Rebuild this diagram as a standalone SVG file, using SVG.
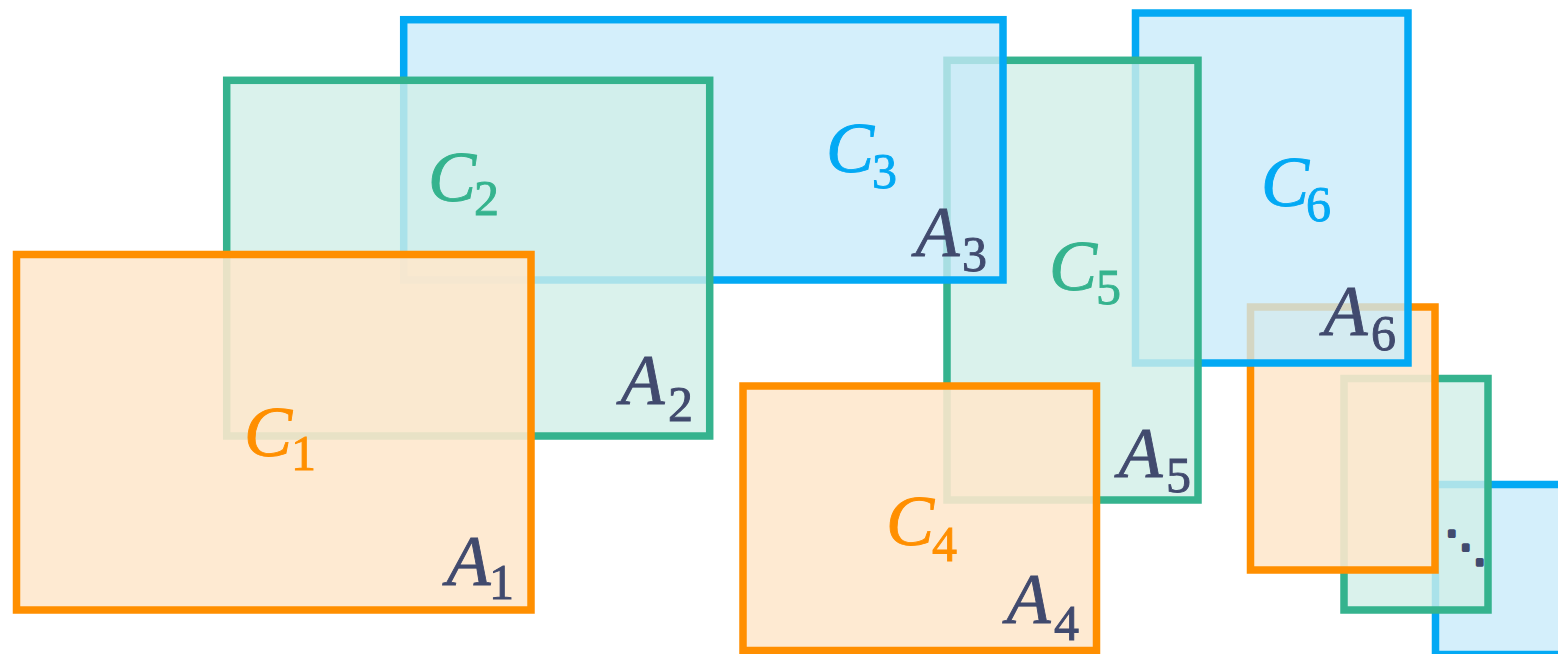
<svg xmlns="http://www.w3.org/2000/svg" width="1558" height="654" viewBox="0 0 1558 654">
<style>
  rect { stroke-width: 7.5; }
  .o { stroke: #ff8f00; fill: #fee7cc; fill-opacity: 0.89; }
  .g { stroke: #35b38e; fill: #d1efe7; fill-opacity: 0.81; }
  .b { stroke: #03a9f4; fill: #c8ebfa; fill-opacity: 0.78; }
  text { font-family: "Liberation Serif", "Times New Roman", serif; stroke-width: 0.9px; }
  .v { font-style: italic; font-size: 72px; }
  .s { font-style: normal; font-size: 50px; }
  .to { fill: #ff8f00; stroke: #ff8f00; }
  .tg { fill: #35b38e; stroke: #35b38e; }
  .tb { fill: #03a9f4; stroke: #03a9f4; }
  .ta { fill: #414a6e; stroke: #414a6e; }
  .dots { font-family: "DejaVu Sans", sans-serif; font-size: 42px; fill: #414a6e; stroke: #414a6e; stroke-width: 3.5px; stroke-linejoin: round; }
</style>
<rect x="0" y="0" width="1558" height="654" fill="#ffffff" stroke="none"/>
<g id="C9">
  <rect class="b" x="1435.5" y="484.5" width="140" height="170"/>
</g>
<g id="C8">
  <rect class="g" x="1344" y="378.5" width="144" height="231.5"/>
</g>
<g id="C7">
  <rect class="o" x="1250.5" y="307" width="184.5" height="263"/>
</g>
<g id="C6">
  <rect class="b" x="1135.5" y="13" width="272.5" height="350"/>
  <text class="tb"><tspan class="v" x="1261" y="206">C</tspan><tspan class="s" x="1306" y="221">6</tspan></text>
  <text class="ta"><tspan class="v" x="1323.5" y="335">A</tspan><tspan class="s" x="1371" y="350">6</tspan></text>
</g>
<g id="C5">
  <rect class="g" x="947" y="60.3" width="251" height="439.7"/>
  <text class="tg"><tspan class="v" x="1049" y="290">C</tspan><tspan class="s" x="1096" y="304">5</tspan></text>
  <text class="ta"><tspan class="v" x="1118.5" y="477">A</tspan><tspan class="s" x="1166" y="492">5</tspan></text>
</g>
<g id="C4">
  <rect class="o" x="743" y="386" width="353.5" height="264.5"/>
  <text class="to"><tspan class="v" x="886" y="545">C</tspan><tspan class="s" x="932" y="561">4</tspan></text>
  <text class="ta"><tspan class="v" x="1006.5" y="623">A</tspan><tspan class="s" x="1054" y="640">4</tspan></text>
</g>
<g id="C3">
  <rect class="b" x="403.7" y="19.7" width="599.3" height="260.3"/>
  <text class="tb"><tspan class="v" x="826" y="172">C</tspan><tspan class="s" x="872" y="188">3</tspan></text>
  <text class="ta"><tspan class="v" x="915.5" y="256">A</tspan><tspan class="s" x="962" y="271">3</tspan></text>
</g>
<g id="C2">
  <rect class="g" x="226.7" y="80.3" width="483" height="355.7"/>
  <text class="tg"><tspan class="v" x="428" y="201">C</tspan><tspan class="s" x="474" y="215">2</tspan></text>
  <text class="ta"><tspan class="v" x="620.5" y="404">A</tspan><tspan class="s" x="668" y="421">2</tspan></text>
</g>
<g id="C1">
  <rect class="o" x="16.5" y="254.5" width="514.5" height="355.5"/>
  <text class="to"><tspan class="v" x="244" y="456">C</tspan><tspan class="s" x="291" y="470">1</tspan></text>
  <text class="ta"><tspan class="v" x="446.5" y="585">A</tspan><tspan class="s" x="489" y="599">1</tspan></text>
</g>
<g id="ellipsis">
  <text class="dots" x="1465.7" y="561" text-anchor="middle">⋱</text>
</g>
<g id="connectors"></g>
</svg>
